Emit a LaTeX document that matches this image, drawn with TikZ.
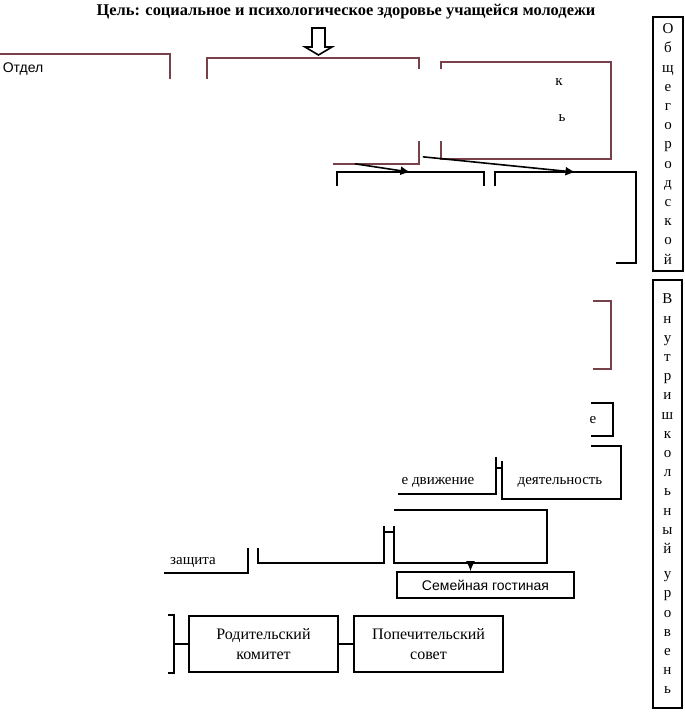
\documentclass[tikz,border=0pt]{standalone}
\usepackage{fontspec}
\setmainfont{Liberation Serif}
\setsansfont{Liberation Sans}
\usetikzlibrary{arrows.meta}
\definecolor{redline}{RGB}{120,64,72}

\begin{document}
\begin{tikzpicture}[x=0.5pt,y=-0.5pt,
  box/.style={rectangle, inner sep=0pt, align=center, font=\fontsize{8}{10}\selectfont},
  txt/.style={inner sep=0pt, font=\fontsize{7.5}{9}\selectfont},
  lvl/.style={box, draw, line width=0.9pt, font=\fontsize{7.5}{9.6}\selectfont},
  every path/.style={line width=0.8pt},
  arr/.style={-{Latex[length=5pt,width=4.5pt]}}]
\useasboundingbox (0,0) rectangle (685,720);

\node[font=\bfseries\fontsize{8.2}{10}\selectfont] (goal) at (346,12) {Цель: социальное и психологическое здоровье учащейся молодежи};
\coordinate (down) at (318.5,28);
\draw (down) ++(-6.5,0) -- ++(13,0) -- ++(0,19) -- ++(7,0) -- ++(-13.5,8) -- ++(-13.5,-8) -- ++(7,0) -- cycle;

\node[box, minimum width=84.5pt, minimum height=52.5pt] (otdel) at (84.5,107.5) {};
\node[box, minimum width=105pt, minimum height=52pt] (kdn) at (313,111) {};
\node[box, minimum width=84pt, minimum height=47.5pt] (center) at (526,110.5) {};
\node[box, minimum width=72.5pt, minimum height=44.5pt] (mezhved) at (410.5,217.5) {};
\node[box, minimum width=69.5pt, minimum height=44.5pt] (psiholog) at (565.5,217.5) {};
\node[box, minimum width=85pt, minimum height=33pt] (school) at (525,335) {};
\node[box, minimum width=86pt, minimum height=15.5pt] (clubs) at (526,419.5) {};
\node[box, minimum width=57.5pt, minimum height=25pt] (dvizh) at (437.5,468) {};
\node[box, minimum width=58.5pt, minimum height=25.5pt] (dosug) at (561.5,472.5) {};
\node[box, minimum width=75.5pt, minimum height=25.5pt] (inform) at (470.5,536.5) {};
\node[box, minimum width=62pt, minimum height=30pt] (profil) at (321,532) {};
\node[box, minimum width=63.5pt, minimum height=25pt] (zashchita) at (183.5,547) {};
\node[box, draw, minimum width=88.5pt, minimum height=13pt, font=\sffamily\fontsize{7}{9}\selectfont] (gostinaya) at (485.5,585) {Семейная гостиная};
\node[box, minimum width=66.5pt, minimum height=28pt] (parents) at (106.5,644) {};
\node[box, draw, minimum width=74.5pt, minimum height=28pt] (roditkom) at (263.5,644) {Родительский\\комитет};
\node[box, draw, minimum width=74.5pt, minimum height=28pt] (popsovet) at (428.5,644) {Попечительский\\совет};

\node[lvl, minimum width=15pt, minimum height=127pt] (city) at (668,144) {О\\б\\щ\\е\\г\\о\\р\\о\\д\\с\\к\\о\\й};
\node[lvl, minimum width=14.5pt, minimum height=214pt] (inner) at (667.5,494) {В\\н\\у\\т\\р\\и\\ш\\к\\о\\л\\ь\\н\\ы\\й\\[3pt]у\\р\\о\\в\\е\\н\\ь};

\draw[redline] (otdel.north west) -- (otdel.north east) -- ++(0,25);
\draw[redline] (kdn.north west) ++(0,21) -- (kdn.north west) -- (kdn.north east) -- ++(0,11);
\draw[redline] (kdn.south east) ++(0,-23) -- (kdn.south east) -- ++(-86,0);
\draw[redline] (center.north west) ++(0,7) -- (center.north west) -- (center.north east) -- (center.south east) -- (center.south west) -- ++(0,-18);
\draw (mezhved.north west) ++(0,14) -- (mezhved.north west) -- (mezhved.north east) -- ++(0,14);
\draw (psiholog.north west) ++(0,14) -- (psiholog.north west) -- (psiholog.north east) -- (psiholog.south east) -- ++(-20,0);
\draw[redline] (school.north east) ++(-18,0) -- (school.north east) -- (school.south east) -- ++(-18,0);
\draw (clubs.north east) ++(-22,0) -- (clubs.north east) -- (clubs.south east) -- ++(-22,0);
\draw (dvizh.north east) ++(0,15) -- (dvizh.south east) -- ++(-98,0);
\draw (dosug.north east) ++(-30,0) -- (dosug.north east) -- (dosug.south east) -- (dosug.south west) -- ++(0,-38);
\draw (inform.south west) ++(0,-37) -- (inform.south west) -- (inform.south east) -- (inform.north east) -- (inform.north west);
\draw (profil.north east) ++(0,25) -- (profil.south east) -- (profil.south west) -- ++(0,-15);
\draw (zashchita.south east) ++(0,-25) -- (zashchita.south east) -- ++(-84,0);
\draw (parents.north east) ++(-6,0) -- (parents.north east) -- (parents.south east) -- ++(-6,0);

\node[txt, anchor=west, font=\sffamily\fontsize{7}{9}\selectfont] (otdelt) at (2,69) {Отдел};
\node[txt] (centerk) at (559,82) {к};
\node[txt] (centers) at (562,118) {ь};
\node[txt] (clubse) at (593,420) {е};
\node[txt] (dvizht) at (438,482) {е движение};
\node[txt] (dosugt) at (560,482) {деятельность};
\node[txt] (zashchitat) at (193,563) {защита};

\draw[arr] ([xshift=21pt]kdn.south) -- (mezhved.north);
\draw[arr] ([xshift=2pt,yshift=3.5pt]kdn.south east) -- ([xshift=5pt]psiholog.north);
\draw (dvizh.east) -- (dvizh.east -| dosug.west);
\draw (profil.east) -- (profil.east -| inform.west);
\draw[arr] (inform.south) -- (inform.south |- gostinaya.north);
\draw (parents) -- (roditkom);
\draw (roditkom) -- (popsovet);
\end{tikzpicture}
\end{document}
